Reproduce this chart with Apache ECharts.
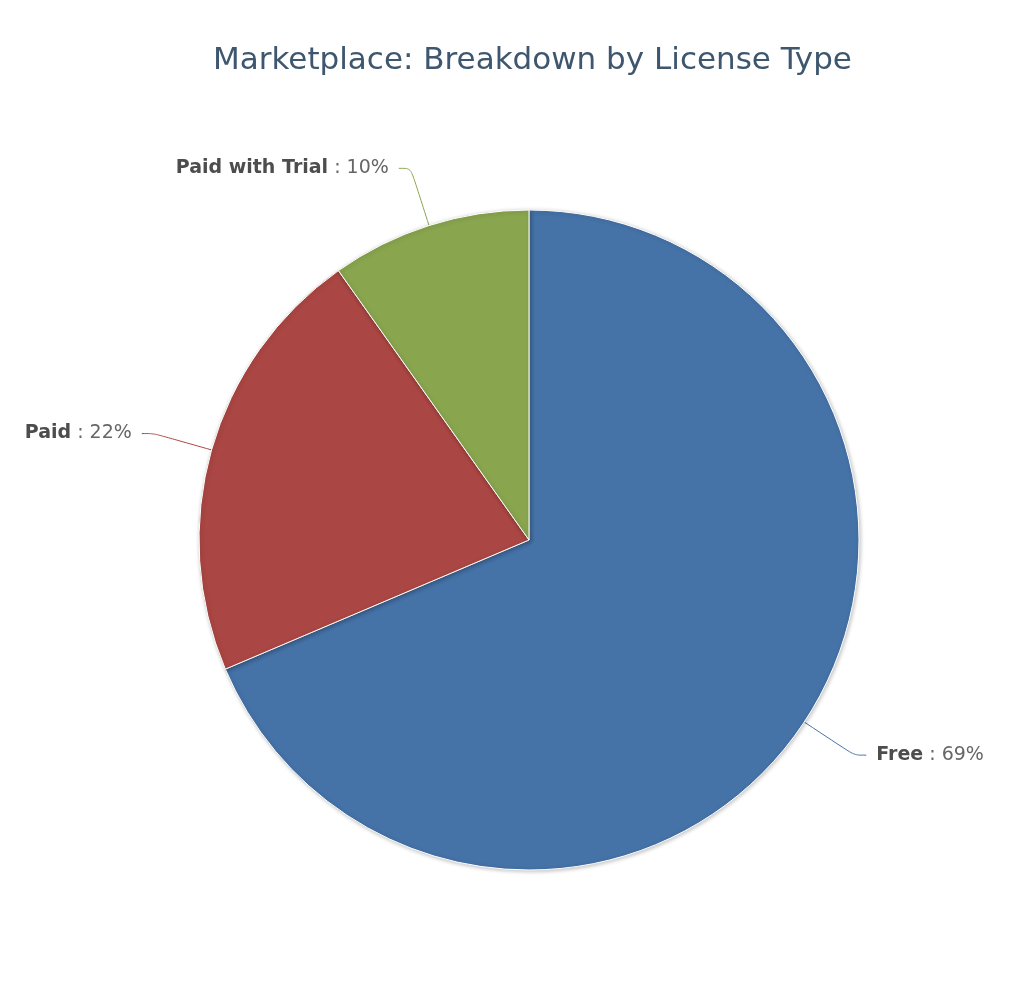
<!DOCTYPE html>
<html lang="en">
  <head>
    <meta charset="UTF-8" />
    <title>Marketplace: Breakdown by License Type</title>
    <script src="https://cdn.jsdelivr.net/npm/echarts@6/dist/echarts.min.js"></script>
    <style>
      html, body { margin: 0; padding: 0; background: #fff; }
      #main { width: 1024px; height: 994px; }
    </style>
  </head>
  <body>
    <div id="main"></div>
    <script>
      // 数据
      var licenseNames = ["Free", "Paid", "Paid with Trial"];
      var licenseShares = [68.6, 21.6, 9.8];
      var sliceColors = ["#4572A7", "#AA4643", "#89A54E"];

      var pieData = [];
      for (var i = 0; i < licenseNames.length; i++) {
        pieData.push({
          name: licenseNames[i],
          value: licenseShares[i],
          itemStyle: { color: sliceColors[i] },
          labelLine: { lineStyle: { color: sliceColors[i] } }
        });
      }

      var myChart = echarts.init(document.getElementById("main"));
      var option = {
        title: {
          text: "Marketplace: Breakdown by License Type",
          left: 208,
          top: 40,
          textStyle: {
            color: "#3E576F",
            fontSize: 31,
            fontWeight: "normal",
            fontFamily: "DejaVu Sans"
          }
        },
        series: [
          {
            type: "pie",
            center: [529, 540],
            radius: 330,
            startAngle: 90,
            clockwise: true,
            data: pieData,
            itemStyle: {
              borderColor: "#fff",
              borderWidth: 1,
              shadowBlur: 4,
              shadowOffsetX: 1,
              shadowOffsetY: 1,
              shadowColor: "rgba(0,0,0,0.25)"
            },
            label: {
              fontFamily: "DejaVu Sans",
              fontSize: 19,
              distanceToLabelLine: 10,
              formatter: function (p) {
                return "{b|" + p.name + "}{v| : " + Math.round(p.percent) + "%}";
              },
              rich: {
                b: { fontWeight: "bold", color: "#4d4d4d", fontSize: 19, fontFamily: "DejaVu Sans" },
                v: { color: "#666", fontSize: 19, fontFamily: "DejaVu Sans" }
              }
            },
            labelLine: {
              show: true,
              length: 60,
              length2: 12,
              smooth: true,
              lineStyle: { width: 1 }
            },
            emphasis: { scale: false }
          }
        ]
      };
      myChart.setOption(option);
    </script>
  </body>
</html>
